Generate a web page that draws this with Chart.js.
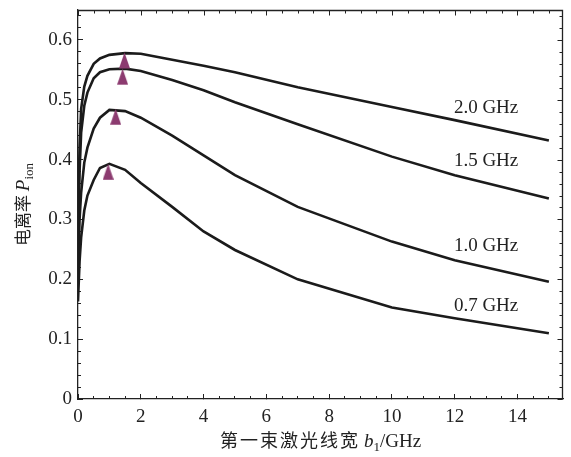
<!DOCTYPE html>
<html>
<head>
<meta charset="utf-8">
<script src="https://cdn.jsdelivr.net/npm/chart.js@4.4.1/dist/chart.umd.min.js"></script>
<style>
  html, body { margin: 0; padding: 0; background: #fff; }
  #wrap { width: 571px; height: 457px; }
</style>
</head>
<body>
<div id="wrap"><canvas id="chart" width="571" height="457"></canvas></div>
<script>
// first laser linewidth b1 (GHz)
const xs = [0, 0.05, 0.1, 0.2, 0.3, 0.5, 0.7, 1, 1.5, 2, 3, 4, 5, 7, 10, 12, 15];

// ionization probability for each second-laser linewidth
const p20 = [0.30, 0.42, 0.485, 0.522, 0.540, 0.560, 0.569, 0.575, 0.578, 0.577, 0.567, 0.557, 0.546, 0.521, 0.488, 0.466, 0.432];
const p15 = [0.26, 0.38, 0.445, 0.490, 0.512, 0.536, 0.546, 0.551, 0.552, 0.548, 0.533, 0.516, 0.496, 0.459, 0.405, 0.374, 0.335];
const p10 = [0.21, 0.30, 0.345, 0.395, 0.420, 0.452, 0.470, 0.483, 0.481, 0.470, 0.440, 0.407, 0.374, 0.321, 0.263, 0.232, 0.196];
const p07 = [0.163, 0.23, 0.27, 0.315, 0.340, 0.366, 0.386, 0.393, 0.383, 0.361, 0.321, 0.280, 0.249, 0.200, 0.153, 0.135, 0.110];

const curveNames = ['2.0 GHz', '1.5 GHz', '1.0 GHz', '0.7 GHz'];

// peak positions (triangle markers)
const peakX = [1.48, 1.42, 1.2, 0.96];
const peakY = [0.579, 0.552, 0.485, 0.393];

// where the curve names sit
const nameX = [13, 13, 13, 13];
const nameY = [0.486, 0.397, 0.2555, 0.1555];

const serif = '"Liberation Serif", "Times New Roman", serif';
const cjk = '"Noto Sans CJK SC", sans-serif';
const ink = '#1b1b1b';
const axisColor = '#222';

function triangleImage() {
  const c = document.createElement('canvas');
  c.width = 11;
  c.height = 34;
  const g = c.getContext('2d');
  g.fillStyle = '#8c3b70';
  g.beginPath();
  g.moveTo(5.5, 17);
  g.lineTo(11, 33);
  g.lineTo(0, 33);
  g.closePath();
  g.fill();
  return c;
}

function curve(ys, name) {
  return {
    label: name,
    data: xs.map((x, i) => ({ x: x, y: ys[i] })),
    borderColor: ink,
    borderWidth: 2.6,
    pointRadius: 0,
    tension: 0,
    fill: false
  };
}

function noPad(s) {
  s.paddingTop = 0;
  s.paddingBottom = 0;
  s.paddingLeft = 0;
  s.paddingRight = 0;
}

// minor-tick axes (no labels), ticks pointing into the plot
function minorAxis(pos, min, max, step) {
  return {
    type: 'linear',
    position: pos,
    min: min,
    max: max,
    weight: 0,
    border: { display: false },
    grid: { drawOnChartArea: false, drawTicks: true, tickLength: -3, tickColor: axisColor, tickWidth: 1 },
    ticks: { display: false, stepSize: step, includeBounds: false, autoSkip: false },
    afterFit: s => {
      if (pos === 'bottom') s.height = 0; else s.width = 0;
      noPad(s);
    }
  };
}

function drawRuns(ctx, runs) {
  let total = 0;
  runs.forEach(r => {
    ctx.font = r.font;
    r.w = ctx.measureText(r.text).width + (r.gap || 0) * r.text.length;
    total += r.w;
  });
  let x = -total / 2;
  runs.forEach(r => {
    ctx.font = r.font;
    if (r.gap) {
      for (const ch of r.text) {
        ctx.fillText(ch, x, r.dy || 0);
        x += ctx.measureText(ch).width + r.gap;
      }
    } else {
      ctx.fillText(r.text, x, r.dy || 0);
      x += r.w;
    }
  });
}

// top and right frame, with the same ticks as the bottom and left axes
const mirror = {
  id: 'mirror',
  afterDatasetsDraw(chart) {
    const ctx = chart.ctx;
    const a = chart.chartArea;
    const sx = chart.scales.x, sxm = chart.scales.xm;
    const sy = chart.scales.y, sym = chart.scales.ym;
    const top = Math.round(a.top) + 0.5;
    const right = Math.round(a.right) - 0.5;
    ctx.save();
    ctx.strokeStyle = axisColor;
    ctx.lineWidth = 1.3;
    ctx.beginPath();
    ctx.moveTo(a.left, top);
    ctx.lineTo(right, top);
    ctx.lineTo(right, a.bottom);
    ctx.stroke();

    ctx.lineWidth = 1;
    ctx.beginPath();
    [[sx, 5], [sxm, 3]].forEach(pair => {
      pair[0].ticks.forEach(t => {
        const px = Math.round(pair[0].getPixelForValue(t.value)) + 0.5;
        ctx.moveTo(px, top);
        ctx.lineTo(px, top + pair[1]);
      });
    });
    [[sy, 5], [sym, 3]].forEach(pair => {
      pair[0].ticks.forEach(t => {
        const py = Math.round(pair[0].getPixelForValue(t.value)) + 0.5;
        ctx.moveTo(right, py);
        ctx.lineTo(right - pair[1], py);
      });
    });
    ctx.stroke();
    ctx.restore();
  }
};

const annotate = {
  id: 'annotate',
  afterDraw(chart) {
    const ctx = chart.ctx;
    const area = chart.chartArea;
    const scales = chart.scales;
    ctx.save();
    ctx.fillStyle = '#222';

    // curve names
    ctx.font = '19px ' + serif;
    ctx.textAlign = 'center';
    ctx.textBaseline = 'middle';
    curveNames.forEach((t, i) => {
      ctx.fillText(t, scales.x.getPixelForValue(nameX[i]), scales.y.getPixelForValue(nameY[i]));
    });

    ctx.textAlign = 'left';
    ctx.textBaseline = 'alphabetic';

    // x title
    ctx.save();
    ctx.translate((area.left + area.right) / 2, area.bottom + 48);
    drawRuns(ctx, [
      { text: '第一束激光线宽', font: '18px ' + cjk, gap: 2 },
      { text: ' ', font: '18px ' + cjk },
      { text: 'b', font: 'italic 19px ' + serif },
      { text: '1', font: '13px ' + serif, dy: 4 },
      { text: '/GHz', font: '19px ' + serif }
    ]);
    ctx.restore();

    // y title
    ctx.save();
    ctx.translate(29, (area.top + area.bottom) / 2);
    ctx.rotate(-Math.PI / 2);
    drawRuns(ctx, [
      { text: '电离率 ', font: '17px ' + cjk },
      { text: 'P', font: 'italic 19px ' + serif },
      { text: 'ion', font: '13px ' + serif, dy: 4 }
    ]);
    ctx.restore();

    ctx.restore();
  }
};

const xMax = 15.45;
const yMax = 0.65;

new Chart(document.getElementById('chart').getContext('2d'), {
  type: 'line',
  data: {
    datasets: [
      {
        type: 'scatter',
        label: 'peak',
        data: peakX.map((x, i) => ({ x: x, y: peakY[i] })),
        pointStyle: triangleImage(),
        pointRadius: 5,
        showLine: false
      },
      curve(p20, curveNames[0]),
      curve(p15, curveNames[1]),
      curve(p10, curveNames[2]),
      curve(p07, curveNames[3])
    ]
  },
  options: {
    responsive: false,
    animation: false,
    devicePixelRatio: 1,
    layout: { padding: { left: 0, right: 8, top: 10, bottom: 0 } },
    plugins: { legend: { display: false }, tooltip: { enabled: false } },
    scales: {
      x: {
        type: 'linear',
        position: 'bottom',
        min: 0,
        max: xMax,
        weight: 1,
        border: { display: true, color: axisColor, width: 1.3 },
        grid: { drawOnChartArea: false, drawTicks: true, tickLength: -5, tickColor: axisColor, tickWidth: 1 },
        ticks: {
          stepSize: 2,
          includeBounds: false,
          autoSkip: false,
          maxRotation: 0,
          padding: 12,
          color: '#222',
          font: { family: serif, size: 19 },
          callback: v => String(v)
        },
        afterFit: s => { s.height = 58; noPad(s); }
      },
      y: {
        type: 'linear',
        position: 'left',
        min: 0,
        max: yMax,
        weight: 1,
        border: { display: true, color: axisColor, width: 1.3 },
        grid: { drawOnChartArea: false, drawTicks: true, tickLength: -5, tickColor: axisColor, tickWidth: 1 },
        ticks: {
          stepSize: 0.1,
          includeBounds: false,
          autoSkip: false,
          padding: 11,
          color: '#222',
          font: { family: serif, size: 19 },
          callback: v => (Math.abs(v) < 1e-9 ? '0' : v.toFixed(1))
        },
        afterFit: s => { s.width = 78; noPad(s); }
      },
      xm: minorAxis('bottom', 0, xMax, 0.5),
      ym: minorAxis('left', 0, yMax, 0.02)
    }
  },
  plugins: [mirror, annotate]
});
</script>
</body>
</html>
